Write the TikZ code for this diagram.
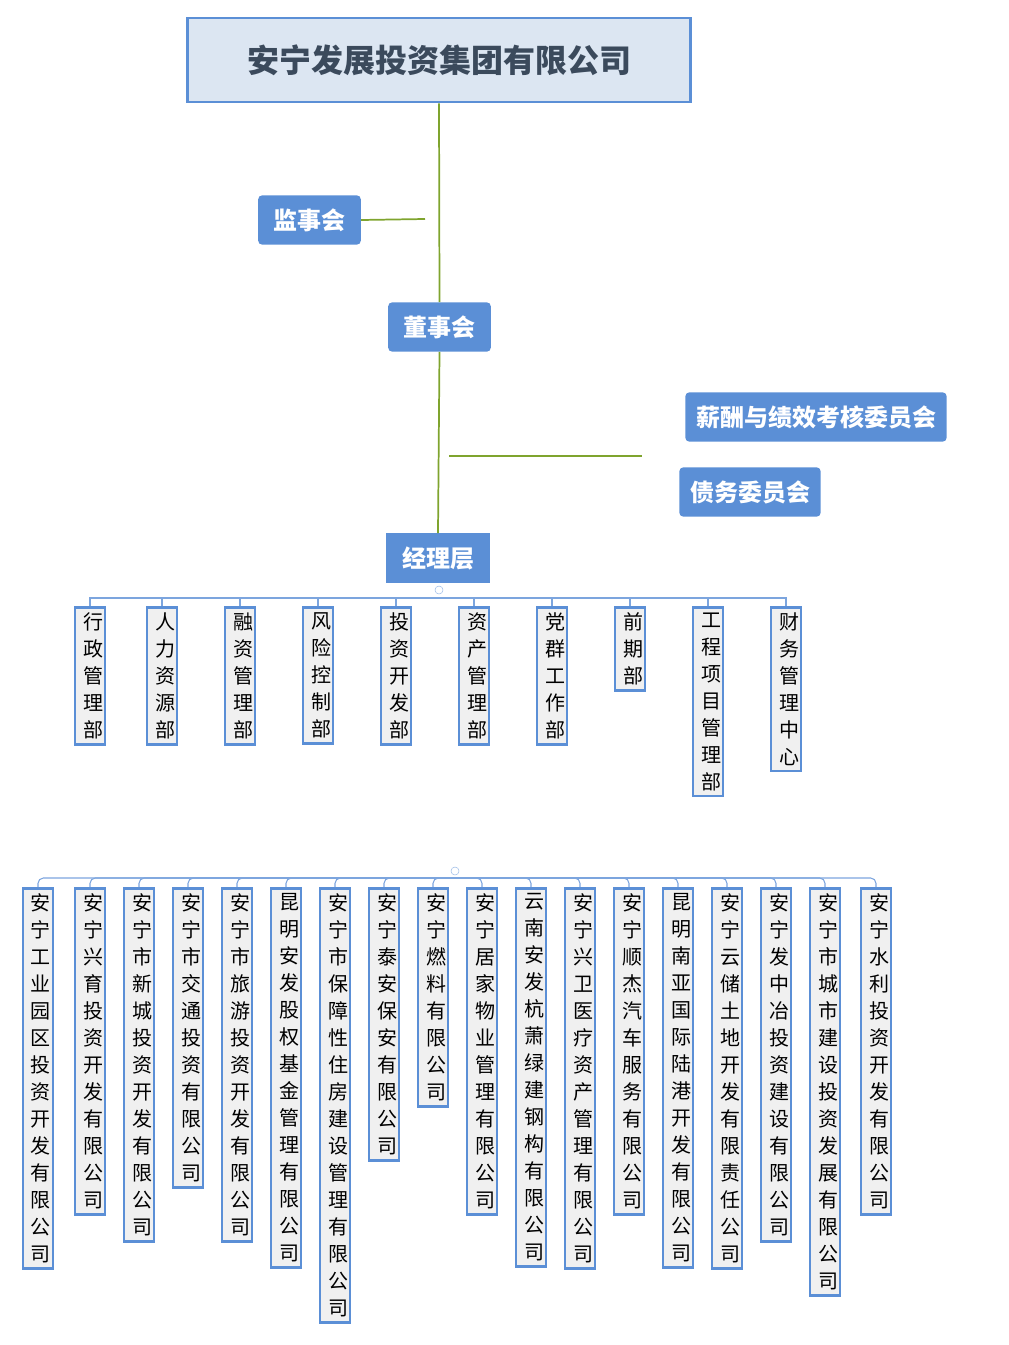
\documentclass[tikz,border=0pt]{standalone}
\usepackage{fontspec}
\setmainfont{Noto Sans CJK SC}
\usetikzlibrary{positioning}
\XeTeXlinebreaklocale "zh"
\XeTeXlinebreakskip=0pt plus 1pt
\definecolor{boxblue}{HTML}{5B8FD6}
\definecolor{topfill}{HTML}{DCE6F2}
\definecolor{topink}{HTML}{3B4A5C}
\definecolor{linegreen}{HTML}{7FA42E}
\definecolor{cellfill}{HTML}{F0F0F0}

\begin{document}
\begin{tikzpicture}[x=0.75pt, y=-0.75pt]
  % Styles
  \tikzset{
    topbox/.style={rectangle, draw=boxblue, line width=2.2pt, fill=topfill, minimum width=377pt, minimum height=63pt, font=\fontsize{24}{28}\selectfont\bfseries, text=topink},
    board/.style={rectangle, rounded corners=3pt, fill=boxblue, text=white, minimum height=37pt, inner xsep=8pt, font=\fontsize{18}{22}\selectfont\bfseries},
    cell/.style={rectangle, draw=boxblue, line width=2pt, fill=cellfill, anchor=north, text width=1.05em, align=center, inner xsep=6pt, inner ysep=4pt, font=\fontsize{15}{20.25}\selectfont},
    greenline/.style={draw=linegreen, line width=1.3pt},
    busline/.style={draw=boxblue!80, line width=0.8pt},
    fold/.style={circle, draw=boxblue!60, inner sep=0pt, minimum size=6pt}
  }
  \useasboundingbox (0,0) rectangle (1008,1345);

  % Top levels
  \node (group) [topbox] at (439,60) {安宁发展投资集团有限公司};
  \node (jianshi) [board, minimum width=77pt] at (309.5,220) {监事会};
  \node (dongshi) [board, minimum width=77pt] at (439.5,327) {董事会};
  \node (xinchou) [board] at (816,417) {薪酬与绩效考核委员会};
  \node (zhaiwu) [board] at (750,492) {债务委员会};
  \node (jingli) [board, rounded corners=0pt, minimum width=78pt] at (438,558) {经理层};

  % Green spine
  \draw [greenline] (group.south) -- (dongshi.north);
  \draw [greenline] (dongshi.south) -- (jingli.north);
  \coordinate (jsend) at (425,219);
  \draw [greenline] (jsend) -- (jianshi.east);
  \coordinate (ctl) at (449,456);
  \coordinate (ctr) at (642,456);
  \draw [greenline] (ctl) -- (ctr);

  % Departments
  \coordinate (dbus) at (439,598);
  \node (dfold) [fold] at (439,590) {};
  \foreach \x/\t [count=\i] in {90/行政管理部, 162/人力资源部, 240/融资管理部, 318/风险控制部,
      396/投资开发部, 474/资产管理部, 552/党群工作部, 630/前期部, 708/工程项目管理部, 786/财务管理中心} {
    \node (d\i) [cell] at (\x,606) {\t};
    \draw [busline] (dbus) -| (d\i.north);
  }

  % Companies
  \coordinate (cbus) at (455,878);
  \node (cfold) [fold] at (455,871) {};
  \foreach \x/\t [count=\i] in {38/安宁工业园区投资开发有限公司, 90/安宁兴育投资开发有限公司,
      139/安宁市新城投资开发有限公司, 188/安宁市交通投资有限公司, 237/安宁市旅游投资开发有限公司,
      286/昆明安发股权基金管理有限公司, 335/安宁市保障性住房建设管理有限公司, 384/安宁泰安保安有限公司,
      433/安宁燃料有限公司, 482/安宁居家物业管理有限公司, 531/云南安发杭萧绿建钢构有限公司,
      580/安宁兴卫医疗资产管理有限公司, 629/安宁顺杰汽车服务有限公司, 678/昆明南亚国际陆港开发有限公司,
      727/安宁云储土地开发有限责任公司, 776/安宁发中冶投资建设有限公司, 825/安宁市城市建设投资发展有限公司,
      876/安宁水利投资开发有限公司} {
    \node (c\i) [cell] at (\x,887) {\t};
    \draw [busline, rounded corners=4pt] (cbus) -| (c\i.north);
  }
\end{tikzpicture}
\end{document}
